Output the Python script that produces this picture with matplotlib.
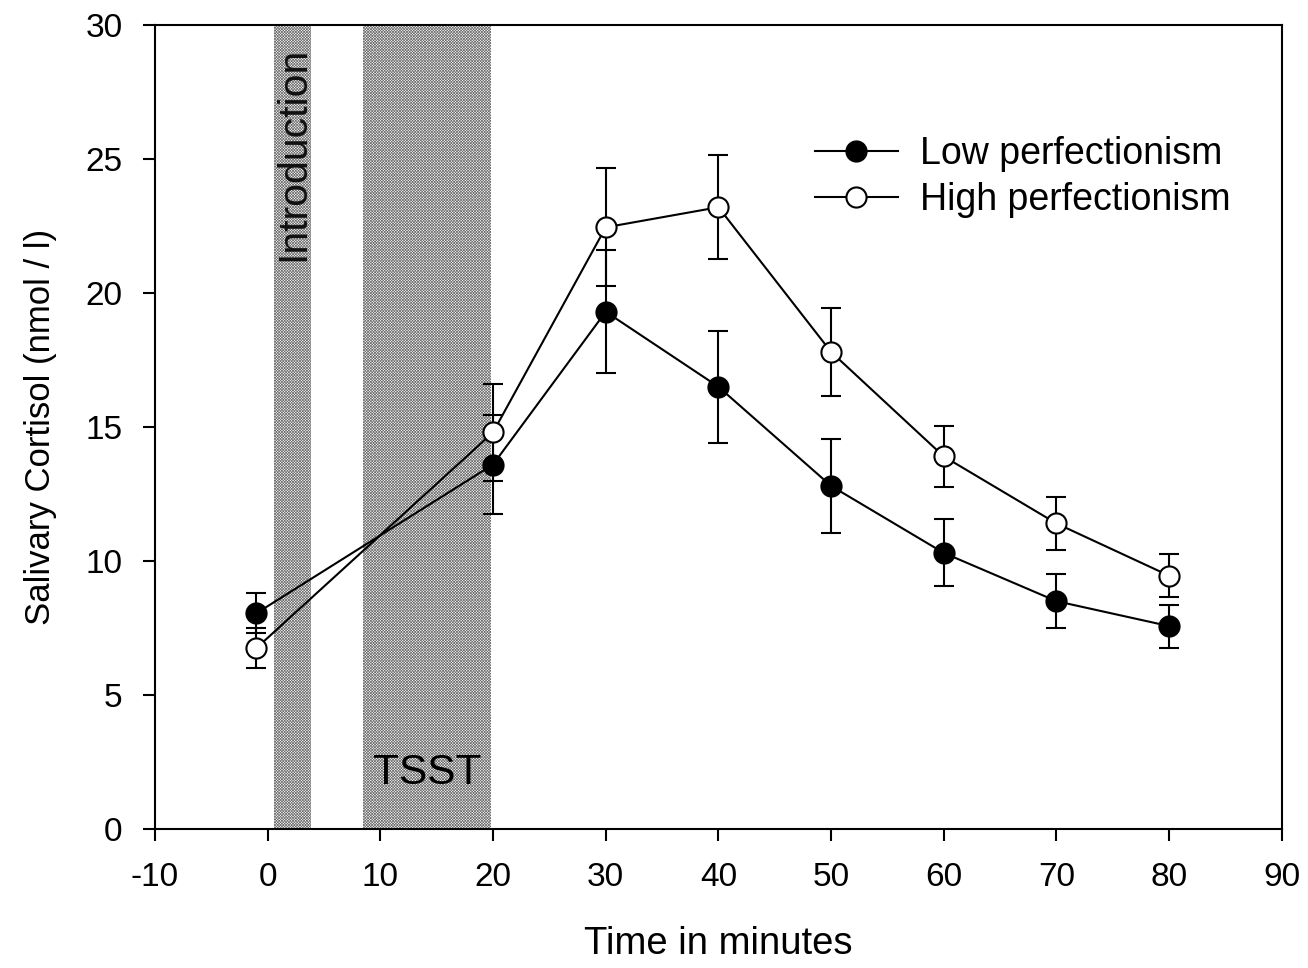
import matplotlib
matplotlib.use("Agg")
import matplotlib.pyplot as plt
import numpy as np

# sample times (minutes) and cortisol values
time_min = [-1, 20, 30, 40, 50, 60, 70, 80]
low_mean = [8.05, 13.6, 19.3, 16.5, 12.8, 10.3, 8.5, 7.57]
low_err = [0.75, 1.85, 2.3, 2.1, 1.77, 1.25, 1.0, 0.8]
high_mean = [6.75, 14.8, 22.45, 23.2, 17.8, 13.9, 11.4, 9.45]
high_err = [0.75, 1.8, 2.2, 1.95, 1.65, 1.15, 1.0, 0.8]

# shaded phases (start, end)
intro_span = (0.6, 3.8)
tsst_span = (8.5, 19.8)

plt.rcParams['font.family'] = ['Liberation Sans', 'DejaVu Sans']
plt.rcParams['axes.unicode_minus'] = False
plt.rcParams['hatch.linewidth'] = 0.5

fig = plt.figure(figsize=(13.08, 9.68), dpi=100)
ax = fig.add_axes([0.1185, 0.1436, 0.8615, 0.8306])

# phases drawn as crosshatched bands
for span in (intro_span, tsst_span):
    ax.axvspan(span[0], span[1], facecolor='white', edgecolor='#6e6e6e',
               hatch='x' * 12, linewidth=0, zorder=0)

ax.text(2.25, 29.2, 'Introduction', rotation=90, ha='center', va='top',
        fontsize=29.5, color='#111111')
ax.text(14.2, 2.1, 'TSST', ha='center', va='center', fontsize=30.5, color='black')

ax.errorbar(time_min, low_mean, yerr=low_err, fmt='o-', color='black',
            mfc='black', mec='black', ms=14.5, mew=1.5, lw=1.5,
            elinewidth=1.5, capsize=7, capthick=1.8,
            label='Low perfectionism', zorder=3)
ax.errorbar(time_min, high_mean, yerr=high_err, fmt='o-', color='black',
            mfc='white', mec='black', ms=14.5, mew=1.5, lw=1.5,
            elinewidth=1.5, capsize=7, capthick=1.8,
            label='High perfectionism', zorder=4)

ax.set_xlim(-10, 90)
ax.set_ylim(0, 30)
ax.set_xticks(np.arange(-10, 91, 10))
ax.set_yticks(np.arange(0, 31, 5))
ax.tick_params(direction='out', length=8.5, width=1.5, labelsize=24, pad=15,
               top=False, right=False)
for s in ax.spines.values():
    s.set_linewidth(1.5)

ax.set_xlabel('Time in minutes', fontsize=27.5, labelpad=24)
ax.set_ylabel('Salivary Cortisol (nmol / l)', fontsize=25, labelpad=20)

handles, labels = ax.get_legend_handles_labels()
handles = [h[0] for h in handles]
ax.legend(handles, labels, loc='upper right', bbox_to_anchor=(0.968, 0.88),
          frameon=False, fontsize=27, handlelength=2.2, handletextpad=0.6,
          labelspacing=0.25, borderaxespad=0)

fig.savefig('out.png', dpi=100)
